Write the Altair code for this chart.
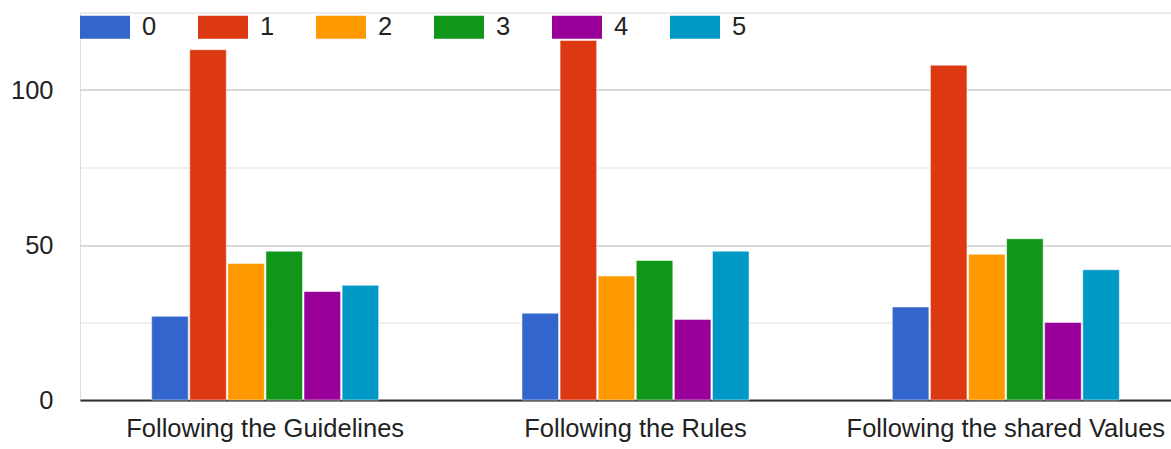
import altair as alt
import pandas as pd

groups = ["Following the Guidelines", "Following the Rules", "Following the shared Values"]
answers = ["0", "1", "2", "3", "4", "5"]
vals_guidelines = [27, 113, 44, 48, 35, 37]
vals_rules = [28, 116, 40, 45, 26, 48]
vals_values = [30, 108, 47, 52, 25, 42]
colors = ["#3366CC", "#DC3912", "#FF9900", "#109618", "#990099", "#0099C6"]

rows = []
for g, vals in zip(groups, [vals_guidelines, vals_rules, vals_values]):
    for a, v in zip(answers, vals):
        rows.append({"group": g, "answer": a, "count": v})
df = pd.DataFrame(rows)

FONT = "Liberation Sans"
FS = 25.5

chart = alt.Chart(df).mark_bar(stroke="#ffffff", strokeOpacity=0.5, strokeWidth=1).encode(
    x=alt.X(
        "group:N",
        sort=groups,
        title=None,
        scale=alt.Scale(range=[0, 1111], paddingInner=0.387, paddingOuter=0.1935),
        axis=alt.Axis(
            labelAngle=0,
            labelFontSize=FS,
            labelFont=FONT,
            labelColor="#222222",
            labelPadding=16,
            labelLimit=0,
            ticks=False,
            domain=True,
            domainColor="#333333",
            domainWidth=2,
            grid=False,
        ),
    ),
    xOffset=alt.XOffset("answer:N", sort=answers, scale=alt.Scale(paddingInner=0.04)),
    y=alt.Y(
        "count:Q",
        title=None,
        scale=alt.Scale(domain=[0, 125], nice=False),
        axis=alt.Axis(
            values=[0, 25, 50, 75, 100, 125],
            labelExpr="datum.value % 50 === 0 ? datum.label : ''",
            labelFontSize=FS,
            labelFont=FONT,
            labelColor="#222222",
            labelPadding=27,
            ticks=False,
            domain=False,
            gridColor={"condition": {"test": "datum.value % 50 === 0", "value": "#cccccc"}, "value": "#ebebeb"},
            gridWidth=1.5,
        ),
    ),
    color=alt.Color(
        "answer:N",
        sort=answers,
        scale=alt.Scale(domain=answers, range=colors),
        legend=alt.Legend(
            title=None,
            orient="none",
            legendX=0,
            legendY=-10.5,
            direction="horizontal",
            columns=6,
            symbolType="M-1,-0.46L1,-0.46L1,0.46L-1,0.46Z",
            symbolSize=2500,
            symbolStrokeWidth=0,
            symbolOpacity=1,
            labelFontSize=FS,
            labelFont=FONT,
            labelColor="#222222",
            labelOffset=12,
            columnPadding=41,
        ),
    ),
).properties(
    width=1091,
    height=387.5,
    autosize=alt.AutoSizeParams(type="none"),
    padding={"left": 80, "top": 12.5, "right": 0, "bottom": 49},
).configure_view(stroke=None).configure(background="#ffffff")

chart.save("out.html", embed_options={"renderer": "svg", "actions": False})
